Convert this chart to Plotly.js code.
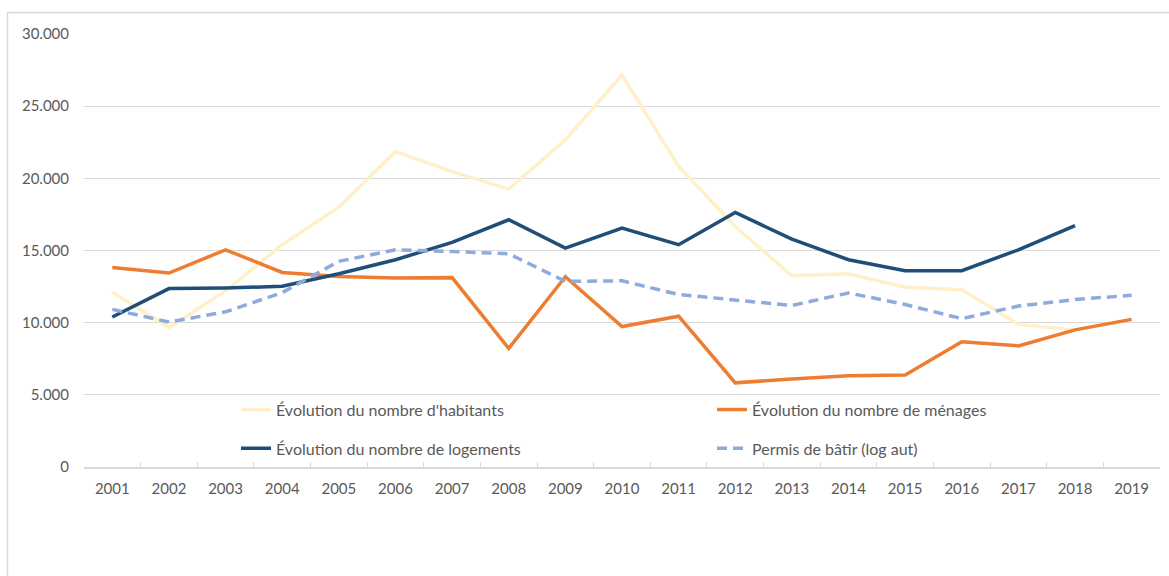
<!DOCTYPE html>
<html><head><meta charset="utf-8">
<script src="https://cdn.plot.ly/plotly-3.0.1.min.js"></script>
<style>html,body{margin:0;padding:0;background:#fff}</style>
</head><body><div id="chart" style="width:1169px;height:576px"></div>
<script>
const years = ['2001','2002','2003','2004','2005','2006','2007','2008','2009','2010','2011','2012','2013','2014','2015','2016','2017','2018','2019'];
const habitants = [12100, 9660, 12200, 15400, 18000, 21850, 20470, 19250, 22660, 27160, 20820, 16660, 13250, 13390, 12450, 12280, 9880, 9500, null];
const menages = [13830, 13440, 15050, 13480, 13200, 13090, 13120, 8220, 13180, 9730, 10450, 5830, 6100, 6330, 6380, 8670, 8390, 9500, 10230];
const logements = [10390, 12360, 12400, 12520, 13390, 14360, 15560, 17130, 15170, 16550, 15400, 17630, 15790, 14360, 13600, 13600, 15050, 16730, null];
const permis = [10920, 10040, 10750, 12080, 14250, 15050, 14930, 14770, 12860, 12900, 11950, 11560, 11190, 12060, 11260, 10280, 11150, 11600, 11900];
const names = ["Évolution du nombre d'habitants", "Évolution du nombre de ménages", "Évolution du nombre de logements", "Permis de bâtir (log aut)"];

const W = 1169, H = 576, L = 84, R = 9, T = 34, B = 108.5;
const pw = W - L - R, ph = H - T - B;
const px = v => (v - L) / pw;
const py = v => (H - B - v) / ph;

const traces = [
  {x: years, y: habitants, name: names[0], mode: 'lines', line: {color: '#FFF0C9', width: 3.5}, legend: 'legend', legendgroup: 'a'},
  {x: years, y: menages, name: names[1], mode: 'lines', line: {color: '#ED7D31', width: 3.5}, legend: 'legend2', legendgroup: 'b'},
  {x: years, y: logements, name: names[2], mode: 'lines', line: {color: '#1F4E79', width: 3.5}, legend: 'legend', legendgroup: 'c'},
  {x: years, y: permis, name: names[3], mode: 'lines', line: {color: '#8FAADC', width: 3.5, dash: '10px,6px'}, legend: 'legend2', legendgroup: 'd'}
];

const legendBase = {orientation: 'v', bgcolor: 'rgba(0,0,0,0)', borderwidth: 0, font: {family: 'Lato, sans-serif', size: 16, color: '#595959'}, tracegroupgap: 15, xanchor: 'left', yanchor: 'top'};

const layout = {
  width: W, height: H,
  margin: {l: L, r: R, t: T, b: B},
  paper_bgcolor: '#fff', plot_bgcolor: '#fff',
  separators: ',.',
  showlegend: true,
  font: {family: 'Lato, sans-serif', size: 15, color: '#595959'},
  xaxis: {type: 'category', range: [-0.5, 18.5], showgrid: false, showline: true, linecolor: '#D9D9D9', linewidth: 1.5,
          ticks: 'inside', tickson: 'boundaries', ticklen: 5, tickcolor: '#D9D9D9', tickwidth: 1,
          tickfont: {family: 'Lato, sans-serif', size: 15, color: '#595959'}, ticklabelstandoff: 7, zeroline: false, fixedrange: true},
  yaxis: {range: [0, 30000], dtick: 5000, tickformat: ',d', showgrid: true, gridcolor: '#D9D9D9', gridwidth: 1.2,
          zeroline: false, showline: false, ticks: '', ticklabelstandoff: 14,
          tickfont: {family: 'Lato, sans-serif', size: 15, color: '#595959'}, fixedrange: true},
  legend: Object.assign({}, legendBase, {x: px(236), y: py(393)}),
  legend2: Object.assign({}, legendBase, {x: px(712), y: py(393)}),
  shapes: [
    {type: 'rect', xref: 'paper', yref: 'paper', x0: px(7.5), x1: px(1180), y0: py(590), y1: py(12.5),
     line: {color: '#D9D9D9', width: 1.5}, fillcolor: 'rgba(0,0,0,0)', layer: 'below'}
  ]
};

Plotly.newPlot('chart', traces, layout, {displayModeBar: false, staticPlot: true});
</script></body></html>
